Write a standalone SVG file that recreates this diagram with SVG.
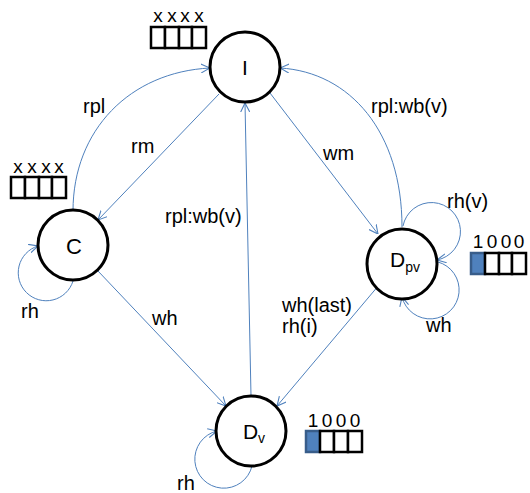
<svg xmlns="http://www.w3.org/2000/svg" width="530" height="493" viewBox="0 0 530 493">
<style>
  .node { fill: #ffffff; stroke: #000000; stroke-width: 3; }
  .edge { fill: none; stroke: #4f81bd; stroke-width: 1; marker-end: url(#arr); }
  .lbl { font-family: "Liberation Sans", Arial, sans-serif; font-size: 20px; fill: #000000; }
  .nlbl { font-family: "Liberation Sans", Arial, sans-serif; font-size: 21px; fill: #000000; text-anchor: middle; }
  .sub { font-size: 14px; }
  .cell { fill: #ffffff; stroke: #000000; stroke-width: 2.5; }
  .cellf { fill: #4f81bd; stroke: #385d8a; stroke-width: 2.5; }
  .bits { font-family: "Liberation Sans", Arial, sans-serif; font-size: 19px; fill: #000000; text-anchor: middle; }
</style>
<defs>
  <marker id="arr" viewBox="0 0 10 10" refX="10" refY="5" markerWidth="9" markerHeight="10" markerUnits="userSpaceOnUse" orient="auto">
    <path d="M0,0 L10,5 L0,10" fill="none" stroke="#4f81bd" stroke-width="1.2"/>
  </marker>
</defs>
<rect width="530" height="493" fill="#ffffff"/>

<g id="connectors">
  <path class="edge" d="M219,94 L98,220"/>
  <path class="edge" d="M73,211 C73,130 130,72 210,68"/>
  <path class="edge" d="M270,93 L378,234"/>
  <path class="edge" d="M402,227 C402,132 350,72 280,68"/>
  <path class="edge" d="M251,396 L245,103"/>
  <path class="edge" d="M98,271 L226,406"/>
  <path class="edge" d="M379,285 L277,406"/>
  <path class="edge" d="M73,281 A28,28 0 1 1 38,246"/>
  <path class="edge" d="M252,466 A29,29 0 1 1 217,431"/>
  <path class="edge" d="M403,226 A29,29 0 1 1 437,260"/>
  <path class="edge" d="M438,262 A29,29 0 1 1 402,297"/>
</g>

<g id="edge-labels">
  <text class="lbl" x="83" y="113">rpl</text>
  <text class="lbl" x="131" y="153">rm</text>
  <text class="lbl" x="165" y="223">rpl:wb(v)</text>
  <text class="lbl" x="323" y="160">wm</text>
  <text class="lbl" x="371" y="113">rpl:wb(v)</text>
  <text class="lbl" x="447" y="208">rh(v)</text>
  <text class="lbl" x="426" y="332">wh</text>
  <text class="lbl" x="282" y="312">wh(last)</text>
  <text class="lbl" x="282" y="333">rh(i)</text>
  <text class="lbl" x="152" y="325">wh</text>
  <text class="lbl" x="21" y="318">rh</text>
  <text class="lbl" x="177" y="490">rh</text>
</g>

<g id="node-I">
  <circle class="node" cx="245" cy="67" r="35"/>
  <text class="nlbl" x="245" y="75">I</text>
  <rect class="cell" x="151" y="27" width="14" height="21"/>
  <rect class="cell" x="165" y="27" width="14" height="21"/>
  <rect class="cell" x="179" y="27" width="13" height="21"/>
  <rect class="cell" x="192" y="27" width="14" height="21"/>
  <text class="bits" x="158 172 185 199" y="22">xxxx</text>
</g>

<g id="node-C">
  <circle class="node" cx="73" cy="245" r="35"/>
  <text class="nlbl" x="74" y="254" style="font-size:22px">C</text>
  <rect class="cell" x="11" y="177" width="14" height="21"/>
  <rect class="cell" x="25" y="177" width="14" height="21"/>
  <rect class="cell" x="39" y="177" width="13" height="21"/>
  <rect class="cell" x="52" y="177" width="14" height="21"/>
  <text class="bits" x="18 32 46 59" y="173">xxxx</text>
</g>

<g id="node-Dpv">
  <circle class="node" cx="402" cy="264" r="35"/>
  <text class="nlbl" x="405" y="267">D<tspan class="sub" dy="5">pv</tspan></text>
  <rect class="cellf" x="471" y="253" width="14" height="21"/>
  <rect class="cell" x="485" y="253" width="14" height="21"/>
  <rect class="cell" x="499" y="253" width="13" height="21"/>
  <rect class="cell" x="512" y="253" width="14" height="21"/>
  <text class="bits" x="478 492 506 519" y="248">1000</text>
</g>

<g id="node-Dv">
  <circle class="node" cx="251" cy="431" r="35"/>
  <text class="nlbl" x="254" y="439">D<tspan class="sub" dy="4">v</tspan></text>
  <rect class="cellf" x="306" y="431" width="14" height="21"/>
  <rect class="cell" x="320" y="431" width="14" height="21"/>
  <rect class="cell" x="334" y="431" width="14" height="21"/>
  <rect class="cell" x="348" y="431" width="14" height="21"/>
  <text class="bits" x="313 327 341 355" y="427">1000</text>
</g>
</svg>
